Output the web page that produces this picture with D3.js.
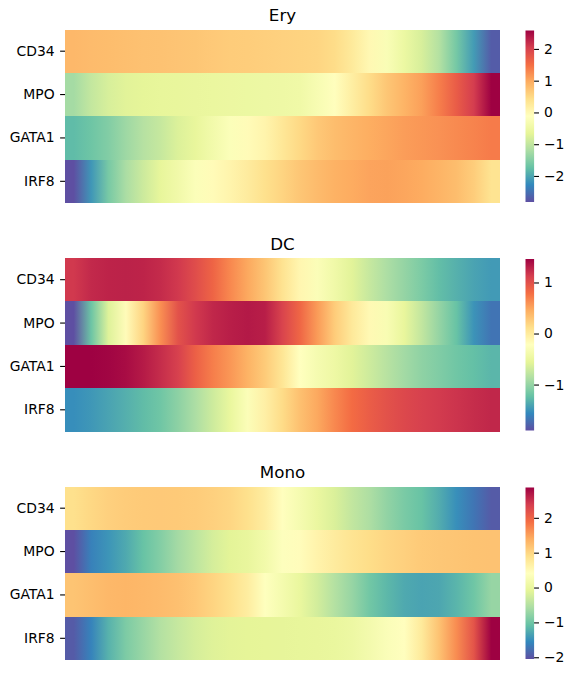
<!DOCTYPE html>
<html>
<head>
<meta charset="utf-8">
<script src="https://cdn.jsdelivr.net/npm/d3@7"></script>
<style>
  body { margin: 0; background: #fff; }
  svg { display: block; font-family: "DejaVu Sans", sans-serif; }
</style>
</head>
<body>
<div id="chart"></div>
<script>
"use strict";

var genes = ['CD34', 'MPO', 'GATA1', 'IRF8'];

// smoothed expression along pseudotime, 25 bins per gene
var eryCD34 = [0.85, 0.82, 0.8, 0.78, 0.76, 0.74, 0.72, 0.7, 0.67, 0.64, 0.62, 0.6, 0.58, 0.56, 0.54, 0.45, 0.25, 0.0, -0.25, -0.52, -0.8, -1.12, -1.62, -2.1, -2.7];
var eryMPO = [-1.25, -0.98, -0.8, -0.7, -0.65, -0.62, -0.6, -0.58, -0.56, -0.54, -0.52, -0.5, -0.48, -0.45, -0.3, -0.1, 0.18, 0.45, 0.7, 0.9, 1.08, 1.36, 1.7, 2.05, 2.58];
var eryGATA1 = [-1.8, -1.68, -1.52, -1.3, -1.1, -0.95, -0.75, -0.6, -0.4, -0.2, -0.05, 0.08, 0.3, 0.5, 0.68, 0.8, 0.88, 0.96, 1.03, 1.1, 1.15, 1.2, 1.26, 1.32, 1.38];
var eryIRF8 = [-2.82, -2.15, -1.6, -1.2, -0.9, -0.62, -0.42, -0.2, -0.05, 0.08, 0.22, 0.4, 0.55, 0.7, 0.82, 0.92, 0.98, 1.04, 1.06, 1.03, 0.98, 0.9, 0.8, 0.62, 0.35];

var dcCD34 = [1.15, 1.24, 1.27, 1.28, 1.27, 1.23, 1.15, 1.02, 0.85, 0.65, 0.48, 0.3, 0.08, -0.12, -0.28, -0.42, -0.58, -0.74, -0.88, -1.0, -1.12, -1.25, -1.33, -1.41, -1.46];
var dcMPO = [-1.9, -1.2, -0.6, -0.18, 0.2, 0.62, 0.98, 1.15, 1.25, 1.3, 1.33, 1.3, 1.08, 0.84, 0.55, 0.25, 0.02, -0.15, -0.32, -0.52, -0.76, -1.0, -1.22, -1.5, -1.68];
var dcGATA1 = [1.46, 1.46, 1.44, 1.4, 1.32, 1.22, 1.1, 0.88, 0.7, 0.57, 0.42, 0.26, 0.05, -0.22, -0.35, -0.45, -0.58, -0.7, -0.82, -0.93, -1.03, -1.1, -1.18, -1.24, -1.3];
var dcIRF8 = [-1.53, -1.48, -1.41, -1.34, -1.26, -1.18, -1.04, -0.88, -0.7, -0.5, -0.28, -0.05, 0.14, 0.33, 0.48, 0.65, 0.8, 0.9, 0.98, 1.05, 1.1, 1.14, 1.18, 1.22, 1.25];

var monoCD34 = [0.88, 0.98, 1.06, 1.1, 1.12, 1.13, 1.12, 1.1, 1.06, 1.0, 0.88, 0.7, 0.42, 0.22, 0.02, -0.18, -0.38, -0.55, -0.75, -0.92, -1.05, -1.25, -1.5, -1.72, -1.95];
var monoMPO = [-2.05, -1.62, -1.45, -1.28, -1.05, -0.85, -0.62, -0.42, -0.22, -0.1, -0.02, 0.15, 0.38, 0.45, 0.6, 0.72, 0.84, 0.92, 1.0, 1.06, 1.12, 1.15, 1.17, 1.19, 1.2];
var monoGATA1 = [1.18, 1.24, 1.3, 1.32, 1.3, 1.27, 1.22, 1.14, 1.02, 0.88, 0.7, 0.4, 0.2, 0.0, -0.25, -0.5, -0.72, -0.98, -1.15, -1.28, -1.33, -1.3, -1.18, -1.0, -0.72];
var monoIRF8 = [-1.95, -1.6, -1.2, -0.9, -0.7, -0.5, -0.35, -0.22, -0.14, -0.1, -0.08, -0.07, -0.06, -0.05, -0.03, 0.0, 0.06, 0.18, 0.32, 0.42, 0.75, 1.2, 1.65, 2.15, 2.87];

// colorbar tick labels
var eryTicks = [-2, -1, 0, 1, 2];
var dcTicks = [-1, 0, 1];
var monoTicks = [-2, -1, 0, 1, 2];

var panels = [
  { name: 'Ery', rows: [eryCD34, eryMPO, eryGATA1, eryIRF8], ticks: eryTicks },
  { name: 'DC', rows: [dcCD34, dcMPO, dcGATA1, dcIRF8], ticks: dcTicks },
  { name: 'Mono', rows: [monoCD34, monoMPO, monoGATA1, monoIRF8], ticks: monoTicks }
];

var WIDTH = 574, HEIGHT = 674;
var LEFT = 65, RIGHT = 500;
var PANEL_H = 173.5;
var TOPS = [29.5, 258, 486.5];
var CBAR_X = 525.5, CBAR_W = 8.6;
var TICK_FONT = 13.9, TITLE_FONT = 16.7;

var svg = d3.select('#chart').append('svg')
  .attr('width', WIDTH)
  .attr('height', HEIGHT);
var defs = svg.append('defs');

// matplotlib "Spectral_r": linear between the 11 brewer anchors
var spectralR = d3.piecewise(d3.interpolateRgb, [
  '#5e4fa2', '#3288bd', '#66c2a5', '#abdda4', '#e6f598', '#ffffbf',
  '#fee08b', '#fdae61', '#f46d43', '#d53e4f', '#9e0142'
]);

panels.forEach(function (p, pi) {
  var top = TOPS[pi];
  var g = svg.append('g').attr('class', 'panel');
  var extent = d3.extent(d3.merge(p.rows));
  var color = d3.scaleSequential(spectralR).domain(extent);
  var x = d3.scaleBand().domain(d3.range(p.rows[0].length)).range([LEFT, RIGHT]);
  var y = d3.scaleBand().domain(genes).range([top, top + PANEL_H]);

  // each gene row: gradient with one stop per bin centre
  p.rows.forEach(function (vals, ri) {
    var grad = defs.append('linearGradient')
      .attr('id', 'row-' + pi + '-' + ri)
      .attr('gradientUnits', 'userSpaceOnUse')
      .attr('x1', LEFT).attr('x2', RIGHT)
      .attr('y1', 0).attr('y2', 0);
    grad.selectAll('stop').data(vals).enter().append('stop')
      .attr('offset', function (d, i) { return (x(i) + x.bandwidth() / 2 - LEFT) / (RIGHT - LEFT); })
      .attr('stop-color', function (d) { return color(d); });
  });

  g.selectAll('rect.row').data(genes).enter().append('rect')
    .attr('class', 'row')
    .attr('x', LEFT)
    .attr('y', function (d) { return y(d); })
    .attr('width', RIGHT - LEFT)
    .attr('height', y.bandwidth())
    .attr('shape-rendering', 'crispEdges')
    .attr('fill', function (d, i) { return 'url(#row-' + pi + '-' + i + ')'; });

  // gene labels
  var yAxis = g.append('g')
    .attr('transform', 'translate(' + LEFT + ',0)')
    .call(d3.axisLeft(y).tickSize(4.9).tickPadding(5.5));
  yAxis.select('.domain').remove();
  yAxis.selectAll('line').attr('stroke', '#000').attr('stroke-width', 1.1);
  yAxis.selectAll('text').attr('font-size', TICK_FONT).attr('fill', '#000')
    .attr('font-family', '"DejaVu Sans", sans-serif');

  // title
  g.append('text')
    .attr('x', (LEFT + RIGHT) / 2)
    .attr('y', top - 8.3)
    .attr('text-anchor', 'middle')
    .attr('font-size', TITLE_FONT)
    .attr('fill', '#000')
    .text(p.name);

  // colorbar
  var cy = d3.scaleLinear().domain(extent).range([top + PANEL_H - 1, top + 1]);
  var cgrad = defs.append('linearGradient')
    .attr('id', 'cbar-' + pi)
    .attr('x1', 0).attr('x2', 0)
    .attr('y1', 1).attr('y2', 0);
  cgrad.selectAll('stop').data(d3.range(0, 1.0001, 0.05)).enter().append('stop')
    .attr('offset', function (t) { return t; })
    .attr('stop-color', function (t) { return spectralR(t); });
  g.append('rect')
    .attr('x', CBAR_X)
    .attr('y', cy(extent[1]))
    .attr('width', CBAR_W)
    .attr('height', cy(extent[0]) - cy(extent[1]))
    .attr('fill', 'url(#cbar-' + pi + ')');

  var cAxis = g.append('g')
    .attr('transform', 'translate(' + (CBAR_X + CBAR_W) + ',0)')
    .call(d3.axisRight(cy).tickValues(p.ticks).tickFormat(d3.format('d'))
      .tickSize(4.9).tickPadding(4.9));
  cAxis.select('.domain').remove();
  cAxis.selectAll('line').attr('stroke', '#000').attr('stroke-width', 1.1);
  cAxis.selectAll('text').attr('font-size', TICK_FONT).attr('fill', '#000')
    .attr('font-family', '"DejaVu Sans", sans-serif');
});
</script>
</body>
</html>
